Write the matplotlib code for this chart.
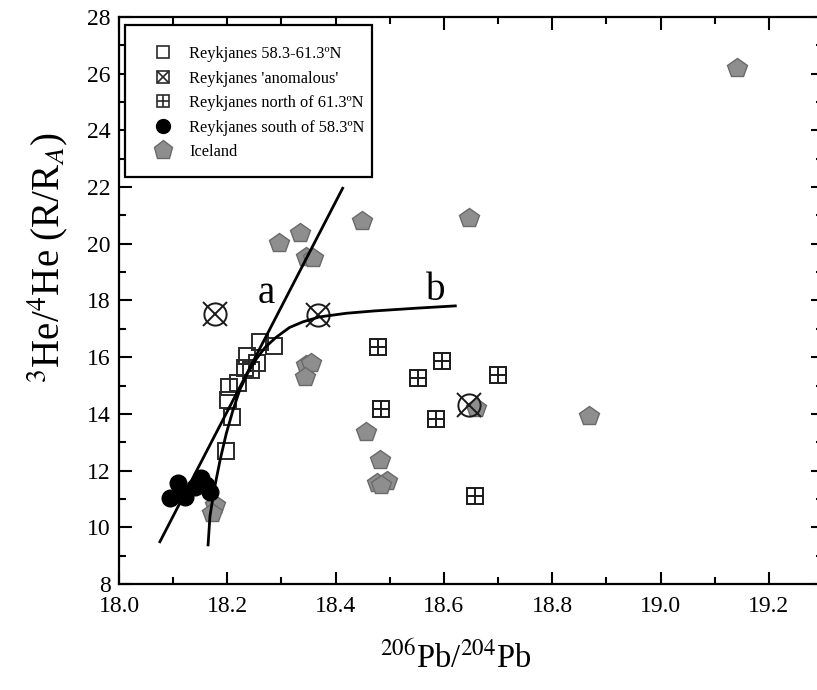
import matplotlib
matplotlib.use("Agg")
import matplotlib.pyplot as plt
from matplotlib.ticker import MultipleLocator
from matplotlib.legend_handler import HandlerTuple
from matplotlib.lines import Line2D
from matplotlib.patches import Rectangle

plt.rcParams['font.family'] = ['Liberation Serif', 'DejaVu Serif']
plt.rcParams['mathtext.fontset'] = 'stix'

# --- data ---
iceland_x = [19.142, 18.646, 18.449, 18.335, 18.296, 18.345, 18.358, 18.346, 18.355,
             18.343, 18.456, 18.482, 18.477, 18.495, 18.484, 18.659, 18.867, 18.177, 18.171]
iceland_y = [26.2, 20.91, 20.80, 20.39, 20.02, 19.55, 19.50, 15.72, 15.80,
             15.30, 13.36, 12.37, 11.56, 11.63, 11.49, 14.21, 13.93, 10.79, 10.50]

rey_mid_x = [18.260, 18.287, 18.236, 18.254, 18.244, 18.232, 18.219, 18.204, 18.201, 18.209, 18.198]
rey_mid_y = [16.55, 16.40, 16.04, 15.78, 15.55, 15.62, 15.09, 14.94, 14.49, 13.90, 12.70]

rey_anom_x = [18.177, 18.367, 18.646]
rey_anom_y = [17.52, 17.49, 14.31]

rey_north_x = [18.479, 18.596, 18.552, 18.700, 18.483, 18.585, 18.657]
rey_north_y = [16.37, 15.88, 15.28, 15.37, 14.17, 13.82, 11.11]

rey_south_x = [18.094, 18.109, 18.122, 18.117, 18.140, 18.152, 18.168, 18.160]
rey_south_y = [11.02, 11.55, 11.08, 11.25, 11.43, 11.73, 11.26, 11.50]

line_a_x = [18.0755, 18.413]
line_a_y = [9.49, 21.96]

curve_b_x = [18.1645, 18.168, 18.177, 18.187, 18.198, 18.210, 18.223, 18.238, 18.254,
             18.270, 18.290, 18.315, 18.340, 18.370, 18.420, 18.470, 18.550, 18.621]
curve_b_y = [9.38, 10.40, 11.45, 12.40, 13.30, 14.10, 14.85, 15.45, 15.95,
             16.35, 16.70, 17.05, 17.25, 17.42, 17.55, 17.63, 17.73, 17.81]

label_a = (18.272, 18.26)
label_b = (18.585, 18.37)

legend_labels = ["Reykjanes 58.3-61.3ºN", "Reykjanes 'anomalous'",
                 "Reykjanes north of 61.3ºN", "Reykjanes south of 58.3ºN", "Iceland"]

xlim = (18.0, 19.3)
ylim = (8, 28)

# --- figure ---
W, H = 817, 690
X0, X1, Y0, Y1 = 119, 823, 584, 17   # axes box in pixels
fig = plt.figure(figsize=(W / 100, H / 100), dpi=100)
ax = fig.add_axes([X0 / W, (H - Y0) / H, (X1 - X0) / W, (Y0 - Y1) / H])

def ax_x(px):
    return (px - X0) / (X1 - X0)

def ax_y(py):
    return (Y0 - py) / (Y0 - Y1)

ax.plot(line_a_x, line_a_y, color='black', lw=2.0, zorder=5)
ax.plot(curve_b_x, curve_b_y, color='black', lw=2.0, zorder=5)

ax.plot(iceland_x, iceland_y, ls='none', marker='p', ms=15,
        mfc='#8e8e8e', mec='#6a6a6a', mew=1.0, zorder=3)
ax.plot(rey_mid_x, rey_mid_y, ls='none', marker='s', ms=11,
        mfc='none', mec='#2a2a2a', mew=1.4, zorder=4)
ax.plot(rey_anom_x, rey_anom_y, ls='none', marker='o', ms=16,
        mfc='none', mec='#1a1a1a', mew=1.4, zorder=4)
ax.plot(rey_anom_x, rey_anom_y, ls='none', marker='x', ms=17,
        mec='#1a1a1a', mew=1.4, zorder=4)
ax.plot(rey_north_x, rey_north_y, ls='none', marker='s', ms=12,
        mfc='none', mec='#1a1a1a', mew=1.4, zorder=4)
ax.plot(rey_north_x, rey_north_y, ls='none', marker='+', ms=12,
        mec='#1a1a1a', mew=1.4, zorder=4)
ax.plot(rey_south_x, rey_south_y, ls='none', marker='o', ms=12,
        mfc='black', mec='black', zorder=4)

ax.text(label_a[0], label_a[1], 'a', fontsize=28, ha='center', va='center')
ax.text(label_b[0], label_b[1], 'b', fontsize=28, ha='center', va='center')

ax.set_xlim(*xlim)
ax.set_ylim(*ylim)
ax.xaxis.set_major_locator(MultipleLocator(0.2))
ax.xaxis.set_minor_locator(MultipleLocator(0.1))
ax.yaxis.set_major_locator(MultipleLocator(2))
ax.yaxis.set_minor_locator(MultipleLocator(1))
ax.xaxis.set_major_formatter(plt.FuncFormatter(lambda v, p: f'{v:.1f}'))
ax.tick_params(which='both', direction='in', top=True, right=True, width=1.5)
ax.tick_params(which='major', length=9, labelsize=17)
ax.tick_params(which='minor', length=5)
ax.tick_params(axis='x', which='major', pad=9)
ax.tick_params(axis='y', which='major', pad=6)
for s in ax.spines.values():
    s.set_linewidth(1.6)

ax.set_xlabel(r'$^{206}$Pb/$^{204}$Pb', fontsize=23.5)
ax.xaxis.set_label_coords(ax_x(456), ax_y(640), transform=ax.transAxes)
ax.set_ylabel(r'$^{3}$He/$^{4}$He (R/R$_{A}$)', fontsize=28)
ax.yaxis.set_label_coords(ax_x(70), ax_y(258), transform=ax.transAxes)

# legend frame drawn manually
frame = Rectangle((ax_x(125), ax_y(177)), ax_x(372) - ax_x(125), ax_y(25) - ax_y(177),
                  transform=ax.transAxes, facecolor='white', edgecolor='black',
                  lw=1.6, zorder=9)
ax.add_patch(frame)

# legend handles (smaller icons)
kw = dict(ls='none', mfc='none', mec='#2a2a2a', mew=1.2)
h_mid = Line2D([], [], marker='s', ms=8, **kw)
h_an1 = Line2D([], [], marker='s', ms=8, **kw)
h_an2 = Line2D([], [], marker='x', ms=8, **kw)
h_no1 = Line2D([], [], marker='s', ms=8, **kw)
h_no2 = Line2D([], [], marker='+', ms=8, **kw)
h_so = Line2D([], [], ls='none', marker='o', ms=10, mfc='black', mec='black')
h_ice = Line2D([], [], ls='none', marker='p', ms=14, mfc='#8e8e8e', mec='#6a6a6a')

leg = ax.legend([h_mid, (h_an1, h_an2), (h_no1, h_no2), h_so, h_ice], legend_labels,
                handler_map={tuple: HandlerTuple(ndivide=1, pad=0)},
                loc='upper left', bbox_to_anchor=(ax_x(153), ax_y(46)), borderaxespad=0,
                borderpad=0, fontsize=11.8, frameon=False,
                handlelength=1.2, handletextpad=1.0, labelspacing=0.52)
leg.set_zorder(10)

fig.savefig('out.png', dpi=100)
